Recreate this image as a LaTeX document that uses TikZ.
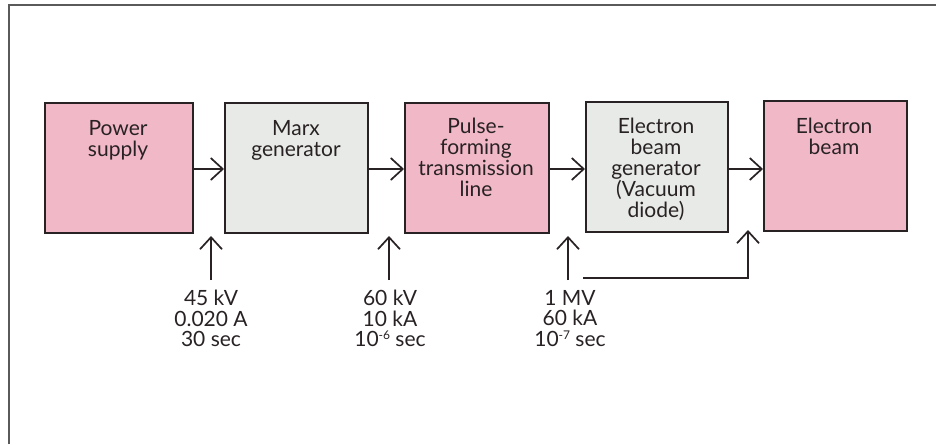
\documentclass[tikz,border=0pt]{standalone}
\usepackage{fontspec}
\setmainfont{Lato}
\usetikzlibrary{arrows.meta,positioning}
\definecolor{pinkfill}{RGB}{241,184,199}
\definecolor{greyfill}{RGB}{231,234,230}
\definecolor{inkc}{RGB}{40,34,36}
\definecolor{framec}{RGB}{90,90,90}
\newcommand{\myexp}[1]{\raisebox{0.32em}{\fontsize{12}{12}\selectfont #1}}
\begin{document}
\begin{tikzpicture}[x=1pt,y=-1pt,
  box/.style={draw=inkc, line width=1.8pt, minimum width=#1, minimum height=130pt, inner sep=0pt, anchor=north west},
  pinkbox/.style={box=#1, fill=pinkfill},
  greybox/.style={box=#1, fill=greyfill},
  btext/.style={anchor=north, inner sep=0pt, align=center, text=inkc, font=\fontsize{21}{21}\selectfont},
  ltext/.style={anchor=north, inner sep=0pt, align=center, text=inkc, font=\fontsize{21}{20.5}\selectfont},
  conn/.style={draw=inkc, line width=1.7pt, -{Straight Barb[length=12pt,width=22pt,line width=1.7pt]}},
  plain/.style={draw=inkc, line width=1.7pt}
]
\useasboundingbox (0,0) rectangle (936,444);
\fill[white] (0,0) rectangle (936,444);
% frame (top and left edges)
\draw[framec, line width=2.2pt] (9,444) -- (9,5) -- (936,5);

% boxes
\node[pinkbox=148pt] (b1) at (44,102) {};
\node[greybox=143pt] (b2) at (224,102) {};
\node[pinkbox=144pt] (b3) at (404,102) {};
\node[greybox=142pt] (b4) at (585,101) {};
\node[pinkbox=143pt] (b5) at (763,100) {};

% box texts
\node[btext] (t1) at (118,120) {Power\\supply};
\node[btext] (t2) at (296,120) {Marx\\generator};
\node[btext] (t3) at (476,118) {Pulse-\\forming\\transmission\\line};
\node[btext] (t4) at (656,118) {Electron\\beam\\generator\\(Vacuum\\diode)};
\node[btext] (t5) at (834,118) {Electron\\beam};

% horizontal connectors
\draw[conn] (b1.east |- 0,169) -- (b2.west |- 0,169);
\draw[conn] (b2.east |- 0,169) -- (b3.west |- 0,169);
\draw[conn] (b3.east |- 0,169) -- (b4.west |- 0,169);
\draw[conn] (b4.east |- 0,169) -- (b5.west |- 0,169);

% inputs
\coordinate (s1) at (211,280);
\coordinate (e1) at (211,236);
\coordinate (s2) at (389,280);
\coordinate (e2) at (389,236);
\coordinate (s3) at (568,280);
\coordinate (e3) at (568,236);
\coordinate (h1) at (583,278);
\coordinate (h2) at (748,278);
\coordinate (e4) at (748,230);
\draw[conn] (s1) -- (e1);
\draw[conn] (s2) -- (e2);
\draw[conn] (s3) -- (e3);
\draw[conn] (h1) -- (h2) -- (e4);

% labels
\node[ltext] (l1) at (211,290) {45 kV\\0.020 A\\30 sec};
\node[ltext] (l2) at (390,290) {60 kV\\10 kA\\10\myexp{-6} sec};
\node[ltext] (l3) at (570,290) {1 MV\\60 kA\\10\myexp{-7} sec};
\end{tikzpicture}
\end{document}
